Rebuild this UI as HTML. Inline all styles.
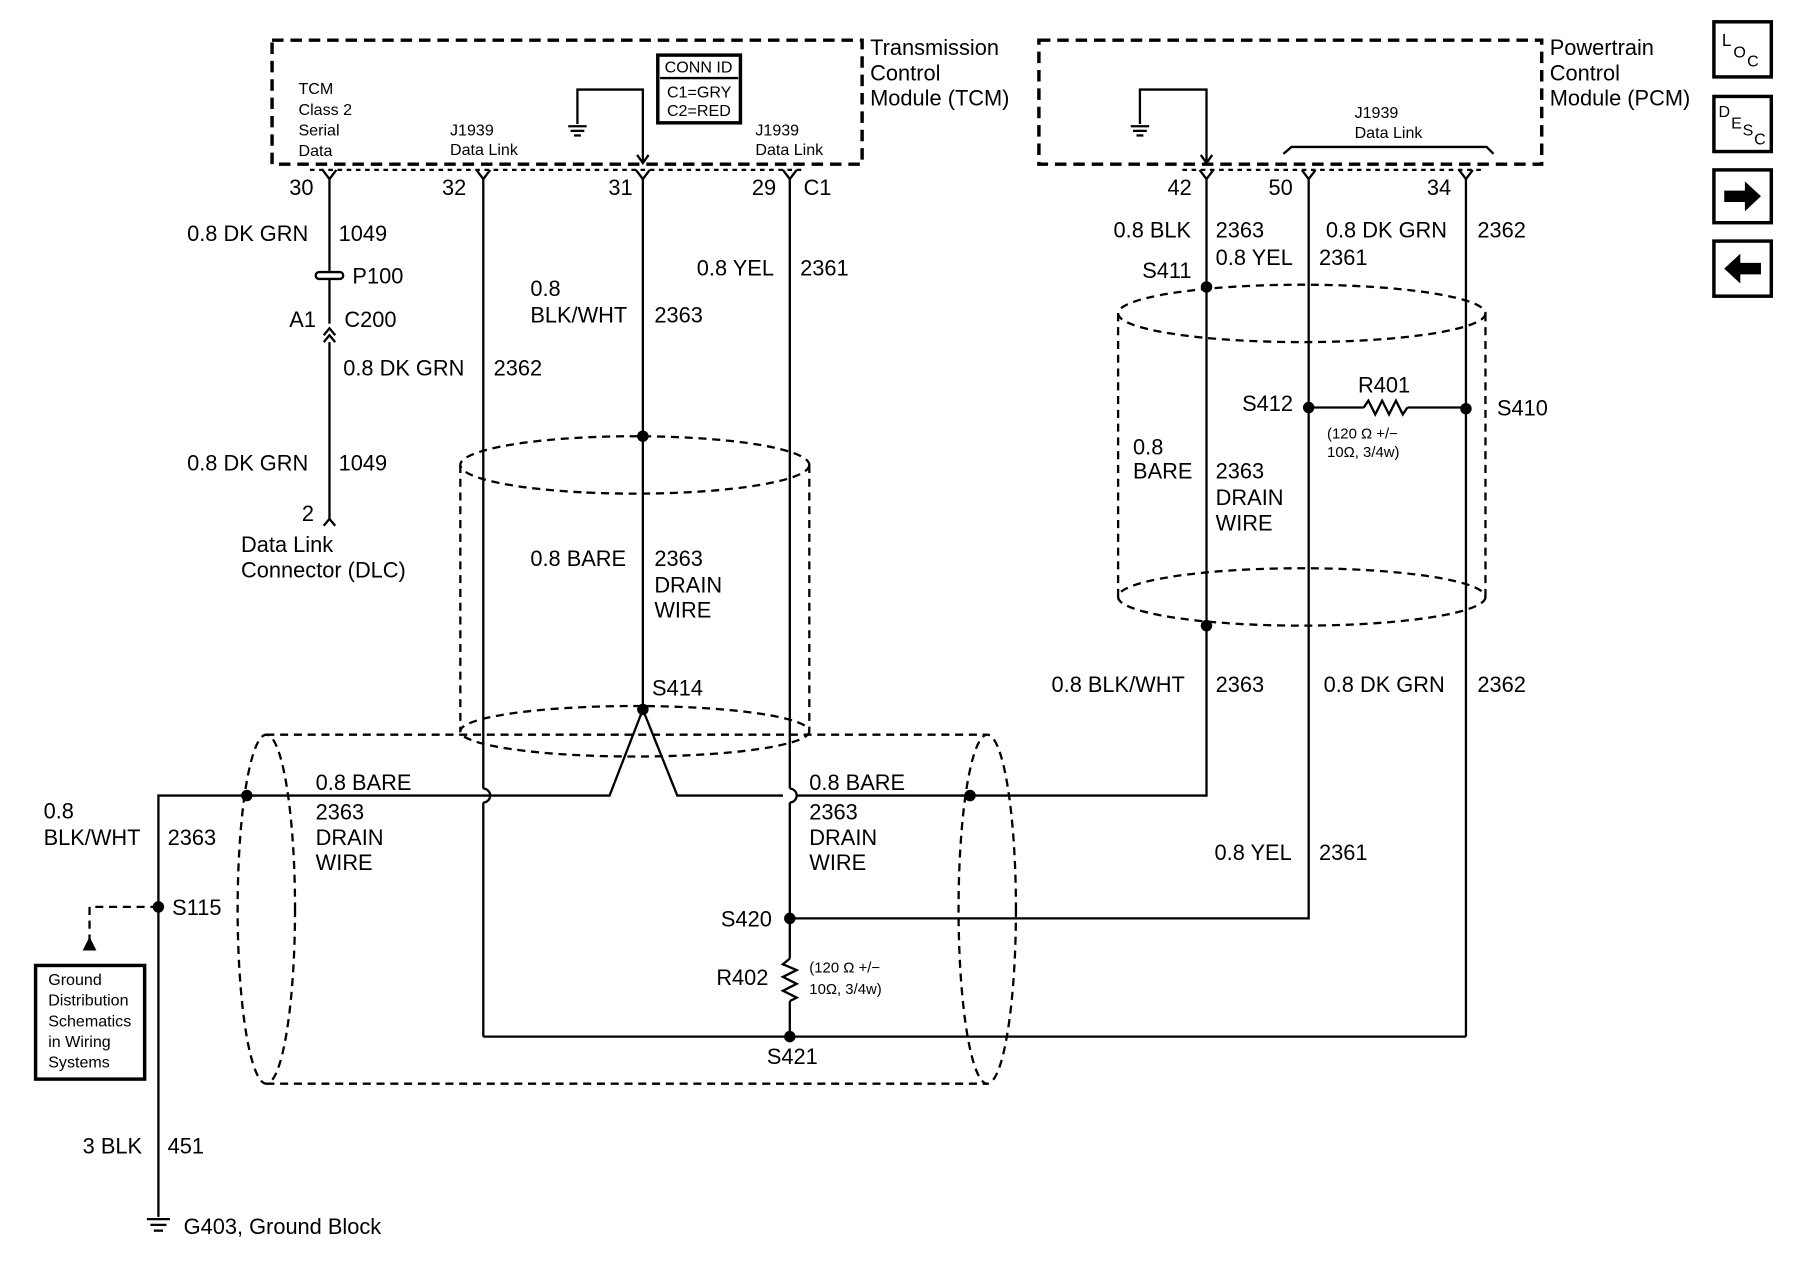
<!DOCTYPE html>
<html><head><meta charset="utf-8"><style>
html,body{margin:0;padding:0;background:#fff;}
svg{display:block;}
text{font-family:"Liberation Sans",sans-serif;fill:#000;}
.l{font-size:19px;}
.s{font-size:14px;}
.t{font-size:13px;}
</style></head><body>
<svg width="1800" height="1280" viewBox="0 0 1568 1115" preserveAspectRatio="none" xmlns="http://www.w3.org/2000/svg">
<g fill="none" stroke="#000" stroke-width="2">
<!-- module boxes -->
<rect x="237" y="35" width="514" height="108" stroke-width="3" stroke-dasharray="10,6"/>
<rect x="905" y="35" width="438" height="108" stroke-width="3" stroke-dasharray="10,6"/>
<rect x="573" y="48" width="72" height="59" stroke-width="3"/>
<line x1="575" y1="68" x2="643" y2="68"/>
<line x1="270" y1="148" x2="700" y2="148" stroke-dasharray="4,4"/>
<line x1="1030" y1="148" x2="1290" y2="148" stroke-dasharray="4,4"/>
<!-- TCM internal ground -->
<polyline points="503,108 503,78 560,78 560,142"/>
<polyline points="555,135 560,142 565,135"/>
<line x1="495" y1="110" x2="511" y2="110"/><line x1="497" y1="114" x2="509" y2="114"/><line x1="500" y1="118" x2="506" y2="118"/>
<!-- PCM internal ground -->
<polyline points="993,108 993,78 1051,78 1051,142"/>
<polyline points="1046,135 1051,142 1056,135"/>
<line x1="985" y1="110" x2="1001" y2="110"/><line x1="987" y1="114" x2="999" y2="114"/><line x1="990" y1="118" x2="996" y2="118"/>
<!-- J1939 bracket PCM -->
<polyline points="1118,134 1125,128 1295,128 1301,134"/>
<!-- pin forks -->
<g>
<polyline points="281,148 287,156 293,148"/><polyline points="415,148 421,156 427,148"/><polyline points="554,148 560,156 566,148"/><polyline points="682,148 688,156 694,148"/>
<polyline points="1045,148 1051,156 1057,148"/><polyline points="1134,148 1140,156 1146,148"/><polyline points="1271,148 1277,156 1283,148"/>
</g>
<!-- wire 287 -->
<line x1="287" y1="156" x2="287" y2="236"/>
<rect x="275" y="237" width="24" height="6" rx="3"/>
<line x1="287" y1="243" x2="287" y2="282"/>
<polyline points="282,292 287,286 292,292"/><polyline points="282,298 287,292 292,298"/>
<line x1="287" y1="298" x2="287" y2="452"/>
<polyline points="282,458 287,452 292,458"/>
<!-- wire 421 -->
<line x1="421" y1="156" x2="421" y2="687"/>
<path d="M421,687 a6,6 0 0 1 0,12"/>
<line x1="421" y1="699" x2="421" y2="903"/>
<line x1="421" y1="903" x2="1277" y2="903"/>
<!-- wire 560 -->
<line x1="560" y1="156" x2="560" y2="618"/>
<!-- wire 688 -->
<line x1="688" y1="156" x2="688" y2="687"/>
<path d="M688,687 a6,6 0 0 1 0,12"/>
<line x1="688" y1="699" x2="688" y2="835"/>
<polyline points="688,835 682,840 694,845 682,851 694,857 682,863 694,869 688,872"/>
<line x1="688" y1="872" x2="688" y2="903"/>
<!-- bare wire -->
<polyline points="138,1060 138,693 531,693 560,618 590,693 682,693"/>
<polyline points="694,693 1051,693 1051,156"/>
<line x1="138" y1="790" x2="78" y2="790" stroke-dasharray="7,5"/>
<line x1="78" y1="790" x2="78" y2="822" stroke-dasharray="7,5"/>
<rect x="31" y="841" width="95" height="99" stroke-width="3"/>
<line x1="128" y1="1062" x2="148" y2="1062"/><line x1="131" y1="1067" x2="145" y2="1067"/><line x1="134" y1="1072" x2="142" y2="1072"/>
<!-- PCM wires -->
<polyline points="1140,156 1140,800 688,800"/>
<line x1="1277" y1="156" x2="1277" y2="903"/>
<line x1="1140" y1="355" x2="1188" y2="355"/>
<polyline points="1188,355 1192,349 1198,361 1204,349 1210,361 1216,349 1222,361 1226,355"/>
<line x1="1226" y1="355" x2="1277" y2="355"/>
<!-- shields -->
<g stroke-dasharray="7,5">
<ellipse cx="553" cy="405" rx="152" ry="25"/>
<line x1="401" y1="405" x2="401" y2="637"/><line x1="705" y1="405" x2="705" y2="637"/>
<ellipse cx="553" cy="637" rx="152" ry="22"/>
<ellipse cx="232" cy="792" rx="25" ry="152"/>
<ellipse cx="860" cy="792" rx="25" ry="152"/>
<line x1="232" y1="640" x2="860" y2="640"/><line x1="232" y1="944" x2="860" y2="944"/>
<ellipse cx="1134" cy="273" rx="160" ry="25"/>
<line x1="974" y1="273" x2="974" y2="520"/><line x1="1294" y1="273" x2="1294" y2="520"/>
<ellipse cx="1134" cy="520" rx="160" ry="25"/>
</g>
<!-- icons -->
<rect x="1493" y="19" width="50" height="48" stroke-width="3"/>
<rect x="1493" y="84" width="50" height="48" stroke-width="3"/>
<rect x="1493" y="148" width="50" height="46" stroke-width="3"/>
<rect x="1493" y="210" width="50" height="48" stroke-width="3"/>
</g>
<g fill="#000">
<polygon points="78,816 72,828 84,828"/>
<circle cx="560" cy="380" r="5"/><circle cx="560" cy="618" r="5"/>
<circle cx="215" cy="693" r="5"/><circle cx="845" cy="693" r="5"/>
<circle cx="138" cy="790" r="5"/><circle cx="688" cy="800" r="5"/><circle cx="688" cy="903" r="5"/>
<circle cx="1051" cy="250" r="5"/><circle cx="1051" cy="545" r="5"/>
<circle cx="1140" cy="355" r="5"/><circle cx="1277" cy="356" r="5"/>
<polygon points="1502,166 1520,166 1520,158 1534,171 1520,184 1520,176 1502,176"/>
<polygon points="1534,229 1516,229 1516,221 1502,234 1516,247 1516,239 1534,239"/>
</g>
<text x="1500" y="40" class="l" style="font-size:15px">L</text><text x="1510" y="50" style="font-size:14px">O</text><text x="1522" y="58" style="font-size:14px">C</text>
<text x="1497" y="102" style="font-size:14px">D</text><text x="1508" y="112" style="font-size:14px">E</text><text x="1518" y="118" style="font-size:14px">S</text><text x="1528" y="126" style="font-size:14px">C</text>
<g class="l">
<text x="758" y="48">Transmission</text><text x="758" y="70">Control</text><text x="758" y="92">Module (TCM)</text>
<text x="1350" y="48">Powertrain</text><text x="1350" y="70">Control</text><text x="1350" y="92">Module (PCM)</text>
<text x="252" y="170">30</text><text x="385" y="170">32</text><text x="530" y="170">31</text><text x="655" y="170">29</text><text x="700" y="170">C1</text>
<text x="1017" y="170">42</text><text x="1105" y="170">50</text><text x="1243" y="170">34</text>
<text x="163" y="210">0.8 DK GRN</text><text x="295" y="210">1049</text>
<text x="307" y="247">P100</text><text x="252" y="285">A1</text><text x="300" y="285">C200</text>
<text x="299" y="327">0.8 DK GRN</text><text x="430" y="327">2362</text>
<text x="163" y="410">0.8 DK GRN</text><text x="295" y="410">1049</text>
<text x="263" y="454">2</text><text x="210" y="481">Data Link</text><text x="210" y="503">Connector (DLC)</text>
<text x="462" y="258">0.8</text><text x="462" y="281">BLK/WHT</text><text x="570" y="281">2363</text>
<text x="607" y="240">0.8 YEL</text><text x="697" y="240">2361</text>
<text x="462" y="493">0.8 BARE</text><text x="570" y="493">2363</text><text x="570" y="516">DRAIN</text><text x="570" y="538">WIRE</text>
<text x="568" y="606">S414</text>
<text x="38" y="713">0.8</text><text x="38" y="736">BLK/WHT</text><text x="146" y="736">2363</text>
<text x="275" y="688">0.8 BARE</text><text x="275" y="714">2363</text><text x="275" y="736">DRAIN</text><text x="275" y="758">WIRE</text>
<text x="705" y="688">0.8 BARE</text><text x="705" y="714">2363</text><text x="705" y="736">DRAIN</text><text x="705" y="758">WIRE</text>
<text x="150" y="797">S115</text><text x="628" y="807">S420</text><text x="624" y="858">R402</text><text x="668" y="927">S421</text>
<text x="72" y="1005">3 BLK</text><text x="146" y="1005">451</text><text x="160" y="1075">G403, Ground Block</text>
<text x="970" y="207">0.8 BLK</text><text x="1059" y="207">2363</text><text x="1155" y="207">0.8 DK GRN</text><text x="1287" y="207">2362</text>
<text x="1059" y="231">0.8 YEL</text><text x="1149" y="231">2361</text><text x="995" y="242">S411</text>
<text x="1183" y="342">R401</text><text x="1082" y="358">S412</text><text x="1304" y="362">S410</text>
<text x="987" y="396">0.8</text><text x="987" y="417">BARE</text><text x="1059" y="417">2363</text><text x="1059" y="440">DRAIN</text><text x="1059" y="462">WIRE</text>
<text x="916" y="603">0.8 BLK/WHT</text><text x="1059" y="603">2363</text><text x="1153" y="603">0.8 DK GRN</text><text x="1287" y="603">2362</text>
<text x="1058" y="749">0.8 YEL</text><text x="1149" y="749">2361</text>
</g>
<g class="s">
<text x="260" y="82">TCM</text><text x="260" y="100">Class 2</text><text x="260" y="118">Serial</text><text x="260" y="136">Data</text>
<text x="392" y="118">J1939</text><text x="392" y="135">Data Link</text>
<text x="658" y="118">J1939</text><text x="658" y="135">Data Link</text>
<text x="1180" y="103">J1939</text><text x="1180" y="120">Data Link</text>
<text x="579" y="63">CONN ID</text><text x="581" y="85">C1=GRY</text><text x="581" y="101">C2=RED</text>
<text x="42" y="858">Ground</text><text x="42" y="876">Distribution</text><text x="42" y="894">Schematics</text><text x="42" y="912">in Wiring</text><text x="42" y="930">Systems</text>
</g>
<g class="t">
<text x="705" y="847">(120 Ω +/−</text><text x="705" y="866">10Ω, 3/4w)</text>
<text x="1156" y="382">(120 Ω +/−</text><text x="1156" y="398">10Ω, 3/4w)</text>
</g>
</svg>
</body></html>
